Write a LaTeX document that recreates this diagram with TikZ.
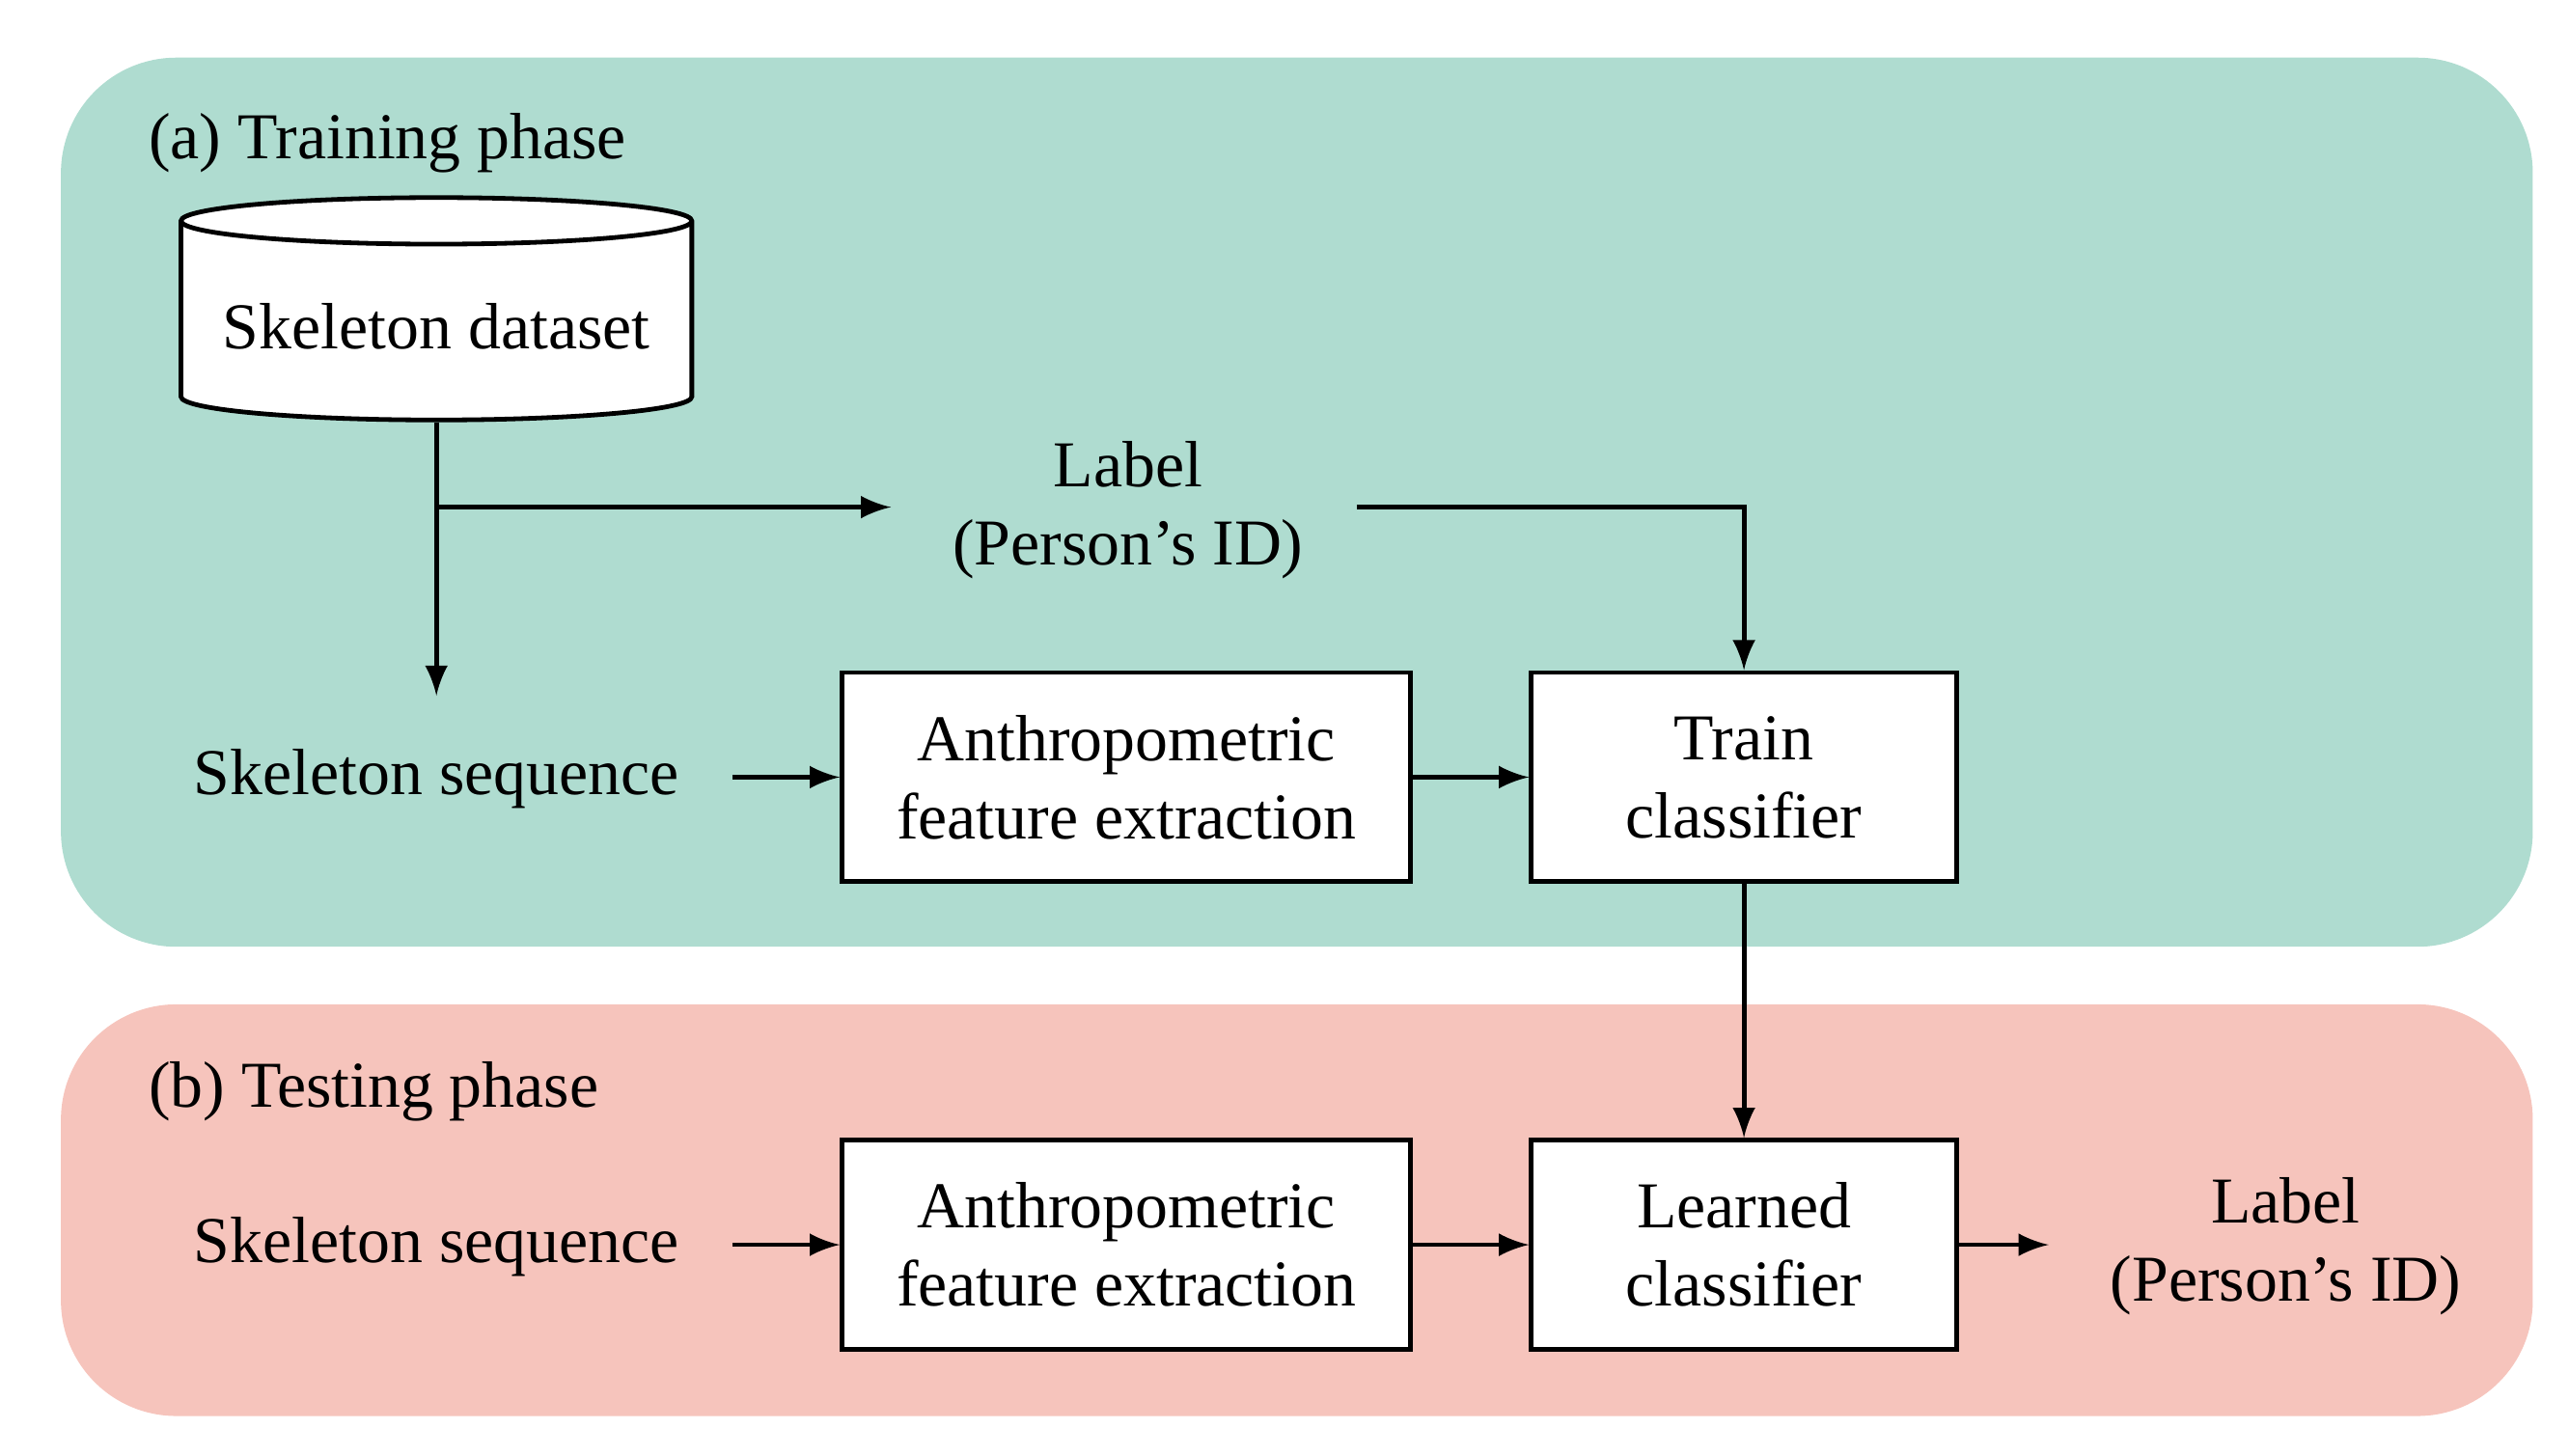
\documentclass[tikz,border=0pt]{standalone}
\usepackage{fontspec}
\setmainfont{Liberation Serif}
\usetikzlibrary{positioning,shapes.geometric}
\definecolor{traingreen}{RGB}{175,220,208}
\definecolor{testpink}{RGB}{246,196,188}
\begin{document}
\begin{tikzpicture} [
		x=0.01cm, y=-0.01cm,
		every node/.style={font=\fontsize{11.3}{13.5}\selectfont, align=center},
		block/.style    = { rectangle, draw, thick, fill=white,
			minimum width=3.45cm, minimum height=1.27cm, inner sep=1pt },
		phase/.style    = { rounded corners=0.7cm },
		line/.style     = { draw, thick, -latex },
		]
		\useasboundingbox (0,0) rectangle (1560,884);
		% Phase backgrounds
		\fill[traingreen, phase] (37,35) rectangle (1538,575);
		\fill[testpink, phase] (37,610) rectangle (1538,860);
		\node[anchor=west] (ta) at (78,87) {(a) Training phase};
		\node[anchor=west] (tb) at (78,663) {(b) Testing phase};
		% Training nodes
		\node [cylinder, shape border rotate=90, draw, thick, fill=white,
			aspect=0.1, minimum width=3.1cm, minimum height=1.35cm] (db) at (265,198) {Skeleton dataset};
		\node (lab) at (685,310) {Label\\(Person’s ID)};
		\node (seq1) at (265,473) {Skeleton sequence};
		\node [block] (fe1) at (684,472) {Anthropometric\\feature extraction};
		\node [block, minimum width=2.58cm] (tc) at (1059,472) {Train\\classifier};
		% Testing nodes
		\node (seq2) at (265,757) {Skeleton sequence};
		\node [block] (fe2) at (684,756) {Anthropometric\\feature extraction};
		\node [block, minimum width=2.58cm] (lc) at (1059,756) {Learned\\classifier};
		\node (out) at (1388,757) {Label\\(Person’s ID)};
		\coordinate (br) at (265,308);
		% connect all nodes defined above
		\begin{scope} [every path/.style=line]
		\path (db.south) -- ([yshift=0.2cm] seq1.north);
		\path (br) -- ([xshift=-0.25cm] lab.west |- br);
		\path ([xshift=0.2cm] lab.east |- br) -| (tc.north);
		\path ([xshift=0.2cm] seq1.east |- fe1.west) -- (fe1.west);
		\path (fe1) -- (tc);
		\path (tc) -- (lc);
		\path ([xshift=0.2cm] seq2.east |- fe2.west) -- (fe2.west);
		\path (fe2) -- (lc);
		\path (lc.east) -- ([xshift=-0.25cm] out.west |- lc.east);
		\end{scope}
		\end{tikzpicture}
\end{document}
